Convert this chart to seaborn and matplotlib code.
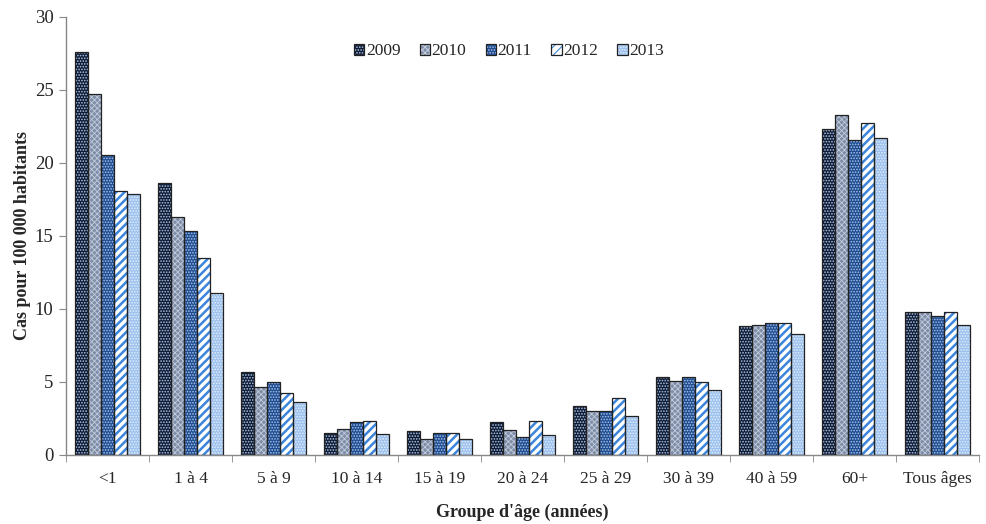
import pandas as pd
import matplotlib
matplotlib.use("Agg")
import matplotlib.pyplot as plt
import seaborn as sns
from matplotlib.patches import Patch, Rectangle

# Données
groupes = ['<1', '1 à 4', '5 à 9', '10 à 14', '15 à 19', '20 à 24',
           '25 à 29', '30 à 39', '40 à 59', '60+', 'Tous âges']
annees = ['2009', '2010', '2011', '2012', '2013']
taux_2009 = [27.6, 18.6, 5.7, 1.5, 1.65, 2.25, 3.35, 5.3, 8.8, 22.3, 9.75]
taux_2010 = [24.7, 16.3, 4.65, 1.75, 1.1, 1.7, 3.0, 5.05, 8.9, 23.25, 9.75]
taux_2011 = [20.5, 15.3, 5.0, 2.25, 1.5, 1.25, 3.0, 5.3, 9.05, 21.55, 9.5]
taux_2012 = [18.05, 13.5, 4.25, 2.35, 1.5, 2.35, 3.9, 5.0, 9.05, 22.75, 9.75]
taux_2013 = [17.85, 11.1, 3.65, 1.45, 1.1, 1.35, 2.65, 4.45, 8.3, 21.7, 8.9]

series = [taux_2009, taux_2010, taux_2011, taux_2012, taux_2013]
rows = []
for annee, vals in zip(annees, series):
    for g, v in zip(groupes, vals):
        rows.append({'groupe': g, 'annee': annee, 'taux': v})
df = pd.DataFrame(rows)

# style de chaque série : (fond, couleur du motif, motif, épaisseur du motif)
styles = {
    '2009': ('#0c1c38', '#b8c8e2', '......', 0.8),
    '2010': ('#7f8ea8', '#c3ccdc', 'xxxxxx', 0.6),
    '2011': ('#1f4d8f', '#a9c2ec', '......', 0.8),
    '2012': ('#ffffff', '#3d85dc', '////', 1.8),
    '2013': ('#9ec2ee', '#e2edfb', '......', 0.8),
}

sns.set_style("white")
plt.rcParams['font.family'] = ['Liberation Serif', 'DejaVu Serif']
plt.rcParams['hatch.linewidth'] = 0.8

fig = plt.figure(figsize=(9.87, 5.24), dpi=100)
ax = fig.add_axes([0.067, 0.132, 0.925, 0.836])

palette = {a: styles[a][0] for a in annees}
sns.barplot(data=df, x='groupe', y='taux', hue='annee', order=groupes,
            hue_order=annees, palette=palette, width=0.78, saturation=1,
            linewidth=0, errorbar=None, ax=ax, legend=False)


def style_patch(p, annee):
    fc, hc, hatch, hlw = styles[annee]
    p.set_hatch(hatch)
    p.set_edgecolor(hc)
    p.set_linewidth(0)
    if hasattr(p, 'set_hatch_linewidth'):
        p.set_hatch_linewidth(hlw)


for annee, cont in zip(annees, ax.containers):
    for p in cont.patches:
        style_patch(p, annee)
        ax.add_patch(Rectangle(p.get_xy(), p.get_width(), p.get_height(),
                               fill=False, edgecolor='#222222', lw=0.9, zorder=3))

ax.set_ylim(0, 30)
ax.set_xlim(-0.5, len(groupes) - 0.5)
ax.set_yticks(range(0, 31, 5))
ax.set_xticks(range(len(groupes)))
ax.set_xticks([i - 0.5 for i in range(len(groupes) + 1)], minor=True)
ax.tick_params(axis='x', which='major', length=0, labelsize=12.5, pad=12)
ax.tick_params(axis='x', which='minor', length=5, color='#888888', direction='out', bottom=True)
ax.tick_params(axis='y', length=5, color='#888888', direction='out', left=True,
               labelsize=13.5, pad=4)

for s in ['top', 'right']:
    ax.spines[s].set_visible(False)
for s in ['left', 'bottom']:
    ax.spines[s].set_color('#888888')
    ax.spines[s].set_linewidth(1)

ax.set_xlabel("Groupe d'âge (années)", fontsize=13, fontweight='bold', labelpad=12)
ax.set_ylabel("Cas pour 100 000 habitants", fontsize=13, fontweight='bold', labelpad=3)

handles = []
for annee in annees:
    fc, hc, hatch, hlw = styles[annee]
    h1 = Patch(facecolor=fc, edgecolor=hc, hatch=hatch, linewidth=0)
    if hasattr(h1, 'set_hatch_linewidth'):
        h1.set_hatch_linewidth(hlw)
    h2 = Patch(fill=False, edgecolor='#222222', linewidth=0.9)
    handles.append((h1, h2))
ax.legend(handles, annees, loc='upper center', bbox_to_anchor=(0.485, 0.975),
          ncol=5, frameon=False, fontsize=12.5, handlelength=0.6, handleheight=0.6,
          handletextpad=0.1, columnspacing=1.1)

fig.savefig('out.png', dpi=100)
